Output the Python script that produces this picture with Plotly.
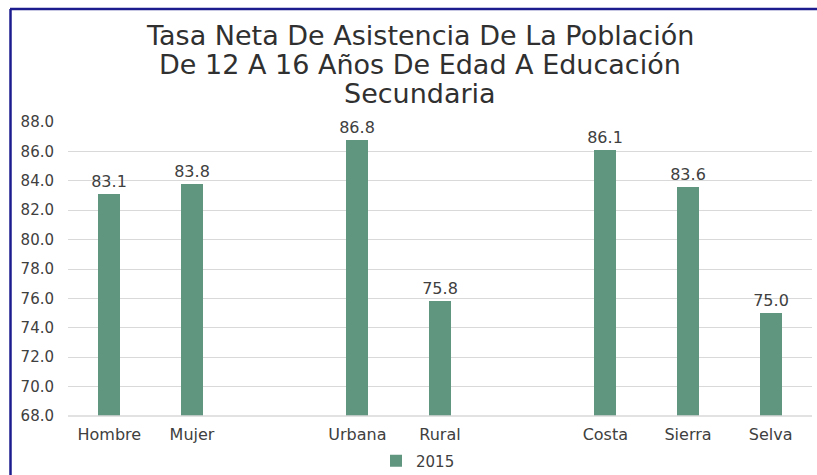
import plotly.graph_objects as go

categories = ["Hombre", "Mujer", "Urbana", "Rural", "Costa", "Sierra", "Selva"]
slots = [0, 1, 3, 4, 6, 7, 8]
values = [83.1, 83.8, 86.8, 75.8, 86.1, 83.6, 75.0]
series_name = "2015"
y_ticks = [68, 70, 72, 74, 76, 78, 80, 82, 84, 86, 88]
title_lines = ["Tasa Neta De Asistencia De La Población",
               "De 12 A 16 Años De Edad A Educación",
               "Secundaria"]

W, H = 817, 475
L, R, T, B = 68, 5, 122, 59
pw, ph = W - L - R, H - T - B

def px_x(x):
    return (x - L) / pw

def px_y(y):
    return (H - B - y) / ph

font = "'DejaVu Sans', sans-serif"

fig = go.Figure()
fig.add_trace(go.Bar(
    x=slots, y=values, name=series_name,
    marker=dict(color="#60957f", line=dict(width=0)),
    width=0.27,
    texttemplate="%{y:.1f}", textposition="outside", constraintext="none",
    textfont=dict(size=16, color="#404040", family=font),
    cliponaxis=False,
))

for i, line in enumerate(title_lines):
    fig.add_annotation(text=line, xref="paper", yref="paper",
                       x=px_x(420), y=px_y(35 + 29 * i), xanchor="center", yanchor="middle",
                       showarrow=False, font=dict(size=27, color="#303030", family=font))

fig.update_layout(
    width=W, height=H,
    margin=dict(l=L, r=R, t=T, b=B, autoexpand=False),
    paper_bgcolor="white", plot_bgcolor="white",
    showlegend=True,
    legend=dict(orientation="h", x=px_x(418), xanchor="center", y=px_y(461), yanchor="middle",
                font=dict(size=15, color="#404040", family=font), itemwidth=30),
    bargap=0,
    xaxis=dict(range=[-0.5, 8.5], tickvals=slots, ticktext=categories, showgrid=False,
               showline=False, ticks="", tickfont=dict(size=16, color="#404040", family=font),
               zeroline=False, fixedrange=True, ticklabelstandoff=7),
    yaxis=dict(range=[68, 88], tickvals=y_ticks, tickformat=".1f", showgrid=True,
               gridcolor="#d9d9d9", gridwidth=1, zeroline=False, showline=False, ticks="",
               tickfont=dict(size=15, color="#404040", family=font), ticklabelstandoff=13,
               fixedrange=True),
    shapes=[
        dict(type="line", xref="paper", yref="paper", x0=px_x(10.5), x1=px_x(10.5),
             y0=px_y(9), y1=px_y(480), line=dict(color="#1c1c8f", width=2.5)),
        dict(type="line", xref="paper", yref="paper", x0=px_x(10), x1=px_x(830),
             y0=px_y(9), y1=px_y(9), line=dict(color="#1c1c8f", width=2.5)),
        dict(type="line", xref="paper", yref="paper", x0=0, x1=1,
             y0=0, y1=0, line=dict(color="#d9d9d9", width=1.5)),
    ],
)

fig.write_html("out.html", config={"displayModeBar": False},
               post_script="document.body.style.margin='0';document.body.style.overflow='hidden';")
